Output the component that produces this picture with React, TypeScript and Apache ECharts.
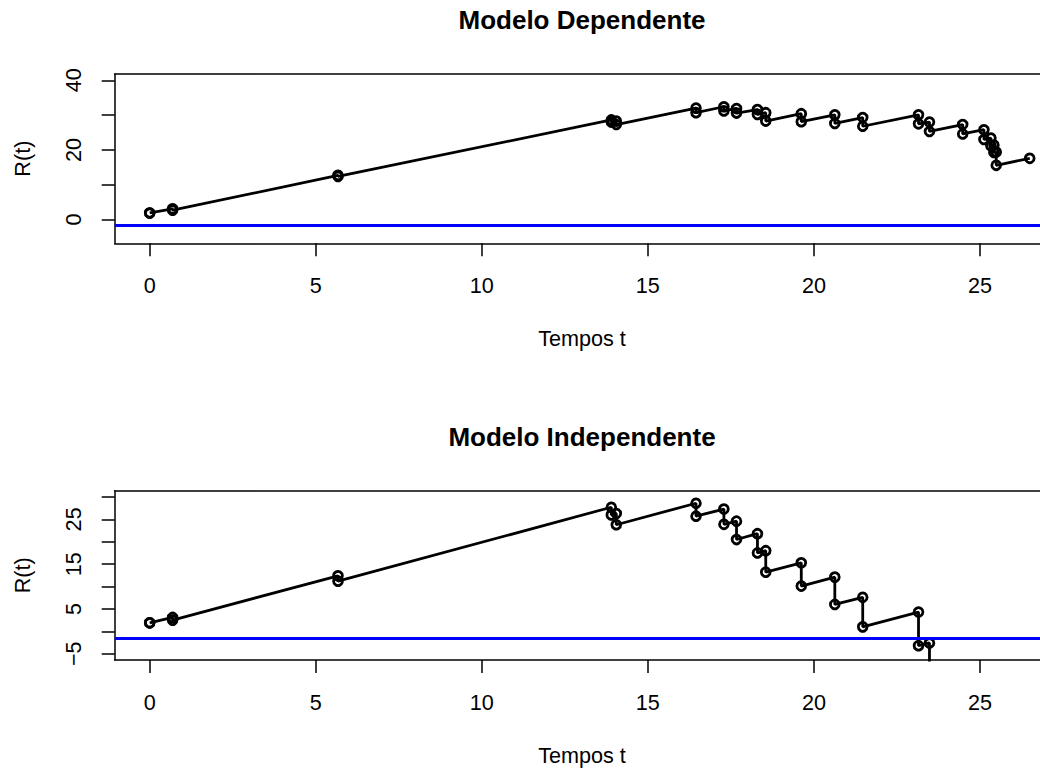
import React, { useEffect, useRef } from "react";
import * as echarts from "echarts";

// ---- data ----
const claimTimes = [0, 0.69, 5.67, 13.9, 14.05, 16.45, 17.29, 17.67, 18.3, 18.55, 19.62, 20.63, 21.47, 23.15, 23.48, 24.48, 25.12, 25.33, 25.42, 25.49];

// Modelo Dependente: surplus just before / just after each claim
const depBefore = [1.9, 3.1, 12.7, 28.6, 28.3, 32.0, 32.4, 31.9, 31.6, 30.7, 30.4, 30.1, 29.3, 30.1, 28.0, 27.3, 25.8, 23.4, 21.4, 19.4];
const depAfter = [1.9, 2.7, 12.4, 28.0, 27.3, 30.7, 31.2, 30.6, 30.2, 28.3, 28.1, 27.6, 26.8, 27.5, 25.3, 24.6, 23.0, 21.2, 19.3, 15.6];
const depEndTime = 26.5;
const depEndValue = 17.6;

// Modelo Independente (ruin at the 15th claim)
const indBefore = [1.9, 3.1, 12.4, 27.7, 26.3, 28.6, 27.3, 24.6, 21.8, 18.0, 15.3, 12.1, 7.6, 4.3, -2.6];
const indAfter = [1.9, 2.5, 11.2, 26.0, 23.8, 25.7, 23.9, 20.5, 17.5, 13.2, 10.1, 6.0, 1.0, -3.2, -12];

const ruinLevel = -1.5;

const xTicks = [0, 5, 10, 15, 20, 25];
const depYTicks = [0, 10, 20, 30, 40];
const depYLabels = [0, 20, 40];
const indYTicks = [-5, 0, 5, 10, 15, 20, 25, 30];
const indYLabels = [-5, 5, 15, 25];

const titles = ["Modelo Dependente", "Modelo Independente"];
const xName = "Tempos t";
const yName = "R(t)";

// ---- build paths ----
function buildPath(times: number[], before: number[], after: number[], endT?: number, endV?: number) {
  const pts: number[][] = [];
  for (let i = 0; i < before.length; i++) {
    pts.push([times[i], before[i]]);
    pts.push([times[i], after[i]]);
  }
  if (endT !== undefined && endV !== undefined) pts.push([endT, endV]);
  return pts;
}

const depPath = buildPath(claimTimes, depBefore, depAfter, depEndTime, depEndValue);
const indPath = buildPath(claimTimes, indBefore, indAfter);

const FONT = "'Liberation Sans', Arial, Helvetica, sans-serif";
const FS = 21.6;

const GRID_LEFT = 114.7;
const PX_PER_UNIT = 33.21;
const X_MIN = -1.054;
const GRID_W = 970; // plot region runs past the visible window, as in the reference
const X_MAX = X_MIN + GRID_W / PX_PER_UNIT;
const GRID_H = 169.3;
const TOPS = [74, 490.7];
const CENTER_X = 582;

const boxLine = { show: true, onZero: false, lineStyle: { color: "#000", width: 1.5 } };

function xAxisBottom(idx: number) {
  return {
    type: "value",
    gridIndex: idx,
    position: "bottom",
    min: X_MIN,
    max: X_MAX,
    axisLine: boxLine,
    axisTick: { show: true, length: 13, lineStyle: { color: "#000", width: 1.5 }, customValues: xTicks },
    axisLabel: { show: true, customValues: xTicks, margin: 31, fontSize: FS, color: "#000", fontFamily: FONT },
    splitLine: { show: false },
  };
}

function xAxisTop(idx: number) {
  return {
    type: "value",
    gridIndex: idx,
    position: "top",
    min: X_MIN,
    max: X_MAX,
    axisLine: boxLine,
    axisTick: { show: false },
    axisLabel: { show: false },
    splitLine: { show: false },
  };
}

function yAxis(idx: number, min: number, max: number, ticks: number[], labels: number[]) {
  return {
    type: "value",
    gridIndex: idx,
    min,
    max,
    axisLine: boxLine,
    axisTick: { show: true, length: 13, lineStyle: { color: "#000", width: 1.5 }, customValues: ticks },
    axisLabel: {
      show: true,
      customValues: labels,
      rotate: 90,
      margin: 30,
      fontSize: FS,
      color: "#000",
      fontFamily: FONT,
      formatter: (v: number) => String(v).replace("-", "\u2212"),
    },
    splitLine: { show: false },
    name: yName,
    nameLocation: "middle",
    nameRotate: 90,
    nameGap: 81,
    nameTextStyle: { fontSize: FS, color: "#000", fontFamily: FONT },
  };
}

function pathSeries(idx: number, data: number[][]) {
  return {
    type: "line",
    xAxisIndex: idx * 2,
    yAxisIndex: idx,
    data,
    clip: true,
    symbol: "circle",
    symbolSize: 8.8,
    showAllSymbol: true,
    silent: true,
    lineStyle: { color: "#000", width: 2.8 },
    itemStyle: { color: "rgba(0,0,0,0)", borderColor: "#000", borderWidth: 2.8 },
    emphasis: { disabled: true },
    markLine: {
      silent: true,
      symbol: ["none", "none"],
      label: { show: false },
      lineStyle: { color: "#0000FF", width: 3, type: "solid" },
      data: [{ yAxis: ruinLevel }],
    },
  };
}

export default function App() {
  const ref = useRef<HTMLDivElement>(null);
  useEffect(() => {
    if (!ref.current) return;
    const chart = echarts.init(ref.current, null, { renderer: "svg" });
    const texts: any[] = [];
    titles.forEach((txt, i) => {
      texts.push({
        type: "text",
        x: CENTER_X,
        y: TOPS[i] - 54,
        style: { text: txt, fontSize: 26, fontWeight: "bold", fontFamily: FONT, fill: "#000", align: "center", verticalAlign: "middle" },
      });
      texts.push({
        type: "text",
        x: CENTER_X,
        y: TOPS[i] + GRID_H + 95,
        style: { text: xName, fontSize: FS, fontFamily: FONT, fill: "#000", align: "center", verticalAlign: "middle" },
      });
    });
    const option: any = {
      animation: false,
      backgroundColor: "#fff",
      grid: TOPS.map((t) => ({
        left: GRID_LEFT,
        top: t,
        width: GRID_W,
        height: GRID_H,
        show: false,
      })),
      xAxis: [xAxisBottom(0), xAxisTop(0), xAxisBottom(1), xAxisTop(1)],
      yAxis: [yAxis(0, -6.8, 41.8, depYTicks, depYLabels), yAxis(1, -6.4, 31.4, indYTicks, indYLabels)],
      series: [pathSeries(0, depPath), pathSeries(1, indPath)],
      graphic: texts,
    };
    chart.setOption(option);
    return () => chart.dispose();
  }, []);
  return (
    <div style={{ position: "fixed", left: 0, top: 0, width: 1040, height: 769, overflow: "hidden", background: "#fff" }}>
      <div ref={ref} style={{ width: 1120, height: 769 }} />
    </div>
  );
}
